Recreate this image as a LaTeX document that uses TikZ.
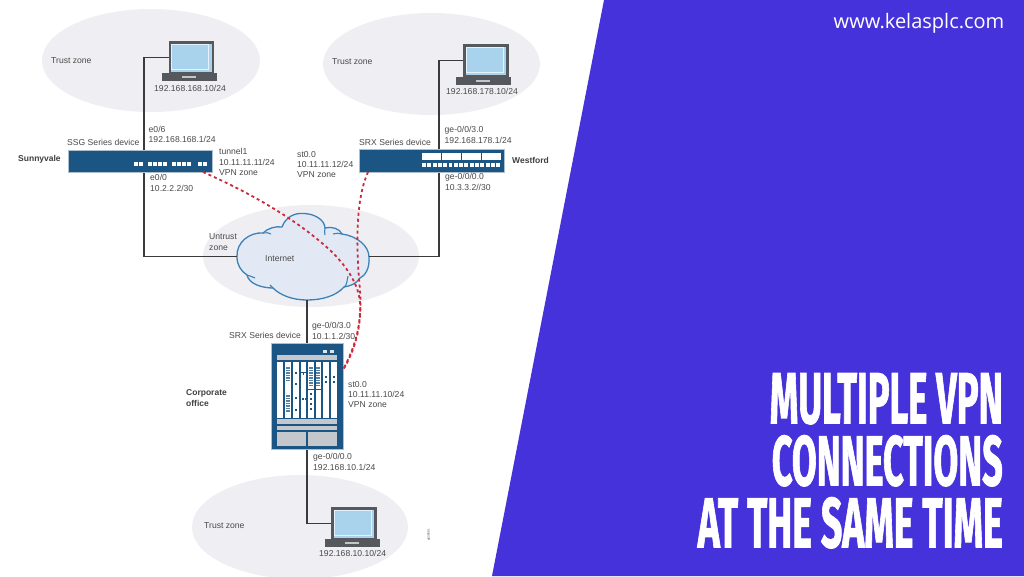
\documentclass[tikz,border=0pt]{standalone}
\usepackage{fontspec}
\setmainfont{Liberation Sans}
\newfontfamily\titlefont[BoldFeatures={FakeBold=1.6}]{Fira Sans}
\newfontfamily\urlfont{Open Sans}
\usetikzlibrary{calc}
\definecolor{panel}{HTML}{4632DA}
\definecolor{zone}{HTML}{EFEFF3}
\definecolor{devblue}{HTML}{1B5583}
\definecolor{devedge}{HTML}{AEBFCE}
\definecolor{wirec}{HTML}{3A3A3A}
\definecolor{labelc}{HTML}{4A4A4A}
\definecolor{tunnelc}{HTML}{CF2A3C}
\definecolor{cloudfill}{HTML}{E3E9F4}
\definecolor{cloudline}{HTML}{3D82B6}
\definecolor{screenc}{HTML}{A9D3EC}
\definecolor{lapc}{HTML}{55595E}
\definecolor{slotgrey}{HTML}{C4C8CC}
\tikzset{
  x=1pt,y=-1pt,
  lbl/.style={anchor=west,inner sep=0,align=left,text=labelc,font=\fontsize{8.6}{10.4}\selectfont},
  lblb/.style={anchor=west,inner sep=0,align=left,text=black!75,font=\fontsize{8.5}{10.2}\selectfont\bfseries},
  wire/.style={draw=wirec,line width=1.1pt},
  tunnel/.style={draw=tunnelc,line width=1.8pt,dash pattern=on 3pt off 3pt},
  device/.style={draw=devedge,line width=1.2pt,fill=devblue,inner sep=0,anchor=north west},
  screen/.style={draw=lapc,line width=2.6pt,fill=screenc,inner sep=0,anchor=north west,minimum width=43pt,minimum height=31pt},
  lapbase/.style={fill=lapc,inner sep=0,anchor=north west,minimum width=55pt,minimum height=8pt},
  title/.style={anchor=north east,inner sep=0,text=white},
  hook/.style={draw=cloudline,line width=1.1pt},
}
\newcommand{\titleline}[3]{\resizebox{#1pt}{#2pt}{\titlefont\bfseries #3}}
\begin{document}
\begin{tikzpicture}
\useasboundingbox (0,0) rectangle (1024,576);
\fill[white] (0,0) rectangle (1024,576);
% zones
\begin{scope}
\clip (0,0) rectangle (1024,576);
\fill[zone] (151,60.5) ellipse [x radius=109,y radius=51.5];
\fill[zone] (431.5,64) ellipse [x radius=108.5,y radius=51];
\fill[zone] (311,256) ellipse [x radius=108,y radius=51];
\fill[zone] (300,527) ellipse [x radius=108,y radius=52];
\end{scope}
% panel
\fill[panel] (604,0) -- (1024,0) -- (1024,576) -- (492,576) -- cycle;
% devices
\node[device,minimum width=144pt,minimum height=22pt] (ssg) at (68,150) {};
\node[device,minimum width=145pt,minimum height=23pt] (srxa) at (359,149) {};
\node[device,minimum width=72pt,minimum height=106pt] (srxb) at (271,343) {};
% laptops
\node[lapbase] (base1) at (162,73) {};
\node[screen] (lap1) at (168.5,41) {};
\node[lapbase] (base2) at (456,76.5) {};
\node[screen] (lap2) at (463,44) {};
\node[lapbase] (base3) at (324.5,539) {};
\node[screen] (lap3) at (331,507) {};
\foreach \bx/\by in {162/73,456/76.5,324.5/539}{
  \fill[white!65!lapc] (\bx+20,\by+3) rectangle (\bx+34,\by+5);
}
\foreach \sx/\sy in {168.5/41,463/44,331/507}{
  \draw[white!70!screenc,line width=.8pt] (\sx+3,\sy+3) rectangle (\sx+40,\sy+28);
}
% ssg ports
\foreach \px in {134,139,148,153,158,163,172,177,182,187,198,203}{
  \fill[white] (\px,162) rectangle +(4,4);
}
% srx a ports
\foreach \px in {422,442,462,482}{
  \fill[white] (\px,153) rectangle +(18.5,7);
}
\foreach \i in {0,...,14}{
  \fill[white] (422+\i*5.3,163) rectangle +(3.9,4);
}
% srx b chassis
\fill[slotgrey] (277,355) rectangle (337,360);
\foreach \a/\b in {277/282.5,285/291,293/298.5,300.5/306,308/314,315.5/321,323/328.5,331/336.5}{
  \fill[white] (\a,362) rectangle (\b,418);
}
\foreach \yy in {367,369.5,372,374.5,377,379.5,395,397.5,400,402.5,405,407.5,410}{
  \fill[devblue!75] (286,\yy) rectangle +(4,1.6);
}
\foreach \yy in {372,383,397,409}{
  \fill[devblue] (294.8,\yy) rectangle +(2,2);
}
\draw[devblue,line width=.7pt] (300.5,372) -- (306,372);
\draw[devblue,line width=.7pt] (303,372) -- (303,375);
\foreach \xx in {301.5,303,304.5}{\fill[devblue] (\xx,398) rectangle +(.9,2);}
\foreach \yy in {367,369.5,372,374.5,377,379.5,382,384.5}{
  \fill[devblue!75] (309,\yy) rectangle +(4,1.6);
  \fill[devblue!75] (316.3,\yy) rectangle +(4,1.6);
}
\draw[devblue,line width=.8pt] (308,389) -- (321,389);
\foreach \yy in {393,398,403,408}{\fill[devblue] (310,\yy) rectangle +(1.9,1.9);}
\foreach \xx in {325,333}{
  \fill[devblue] (\xx,376) rectangle +(1.8,2);
  \fill[devblue] (\xx,381) rectangle +(1.8,2);
}
\fill[slotgrey] (277,419) rectangle (337,423.5);
\fill[slotgrey] (277,425.5) rectangle (337,430);
\fill[slotgrey] (277,432) rectangle (306,446);
\fill[slotgrey] (308,432) rectangle (337,446);
\fill[white!85!devblue] (323,350) rectangle +(4,2.6);
\fill[white!85!devblue] (330,350) rectangle +(4,2.6);
% cloud
\path[draw=cloudline,fill=cloudfill,line width=1.3pt]
  (237,257) .. controls (236,242) and (250,232) .. (263,233)
  .. controls (268,228) and (276,226) .. (282,227)
  .. controls (286,216) and (296,213) .. (302,213.5)
  .. controls (314,213) and (325,220) .. (325,228)
  .. controls (332,226) and (340,229) .. (342,234)
  .. controls (357,236) and (369,246) .. (369,257)
  .. controls (370,268) and (365,276) .. (360,278)
  .. controls (356,284) and (350,286) .. (344,287)
  .. controls (336,296) and (322,300) .. (307,300)
  .. controls (292,300) and (280,295) .. (273,288)
  .. controls (262,288) and (249,284) .. (247,275)
  .. controls (241,271) and (237,265) .. (237,257) -- cycle;
\draw[hook] (263,233) .. controls (266,232) and (269,233) .. (271,234);
\draw[hook] (325,228) .. controls (324,231) and (325,233) .. (325,235);
\draw[hook] (342,234) .. controls (339,233) and (336,233) .. (333,234);
\draw[hook] (344,287) .. controls (347,286) and (347,280) .. (348,276);
\draw[hook] (273,288) .. controls (272,287) and (271,286) .. (270,285);
\draw[hook] (247,275) .. controls (250,276) and (253,277) .. (255,278);
\node[inner sep=0,minimum width=132pt,minimum height=87pt] (cloud) at (303,256.5) {};
% anchor coordinates on devices
\coordinate (ssgx) at (144,0);
\coordinate (srxax) at (439,0);
\coordinate (srxbx) at (307,0);
\coordinate (ssgtun) at (203,172);
\coordinate (srxatun) at (368,172);
\coordinate (srxbtun) at (343.5,369);
% connectors
\draw[wire] (lap1.west) -| (ssg.north -| ssgx);
\draw[wire] (lap2.west) -| (srxa.north -| srxax);
\draw[wire] (ssg.south -| ssgx) |- (cloud.west);
\draw[wire] (srxa.south -| srxax) |- (cloud.east);
\draw[wire] (cloud.south -| srxbx) -- (srxb.north -| srxbx);
\draw[wire] (srxb.south -| srxbx) |- (lap3.west);
% tunnels
\draw[tunnel] (ssgtun) .. controls (255,195) and (300,222) .. (332,252)
  .. controls (352,272) and (362,292) .. (360,312)
  .. controls (359,335) and (352,352) .. (srxbtun);
\draw[tunnel] (srxatun) .. controls (359,192) and (354,228) .. (360,290)
  .. controls (362,320) and (358,345) .. (srxbtun);
% labels
\node[lbl] (t1) at (51,61) {Trust zone};
\node[lbl] (t2) at (332,62) {Trust zone};
\node[lbl] (t3) at (204,526) {Trust zone};
\node[lbl] (a1) at (154,88) {192.168.168.10/24};
\node[lbl] (a2) at (446,91) {192.168.178.10/24};
\node[lbl] (a3) at (319,553) {192.168.10.10/24};
\node[lbl] (p1) at (148.5,134.5) {e0/6\\192.168.168.1/24};
\node[lbl] (d1) at (67,142) {SSG Series device};
\node[lblb] (sv) at (18,159) {Sunnyvale};
\node[lbl] (p2) at (219,162) {tunnel1\\10.11.11.11/24\\VPN zone};
\node[lbl] (p3) at (150,183) {e0/0\\10.2.2.2/30};
\node[lbl] (p4) at (444.5,135) {ge-0/0/3.0\\192.168.178.1/24};
\node[lbl] (d2) at (359,142) {SRX Series device};
\node[lbl] (p5) at (297,164.5) {st0.0\\10.11.11.12/24\\VPN zone};
\node[lblb] (wf) at (512,160) {Westford};
\node[lbl] (p6) at (445,182) {ge-0/0/0.0\\10.3.3.2//30};
\node[lbl] (u) at (209,242) {Untrust\\zone};
\node[lbl] (net) at (265,258.5) {Internet};
\node[lbl] (p7) at (312,331) {ge-0/0/3.0\\10.1.1.2/30};
\node[lbl] (d3) at (229,335) {SRX Series device};
\node[lblb] (co) at (186,398) {Corporate\\office};
\node[lbl] (p8) at (348,394.5) {st0.0\\10.11.11.10/24\\VPN zone};
\node[lbl] (p9) at (313,462) {ge-0/0/0.0\\192.168.10.1/24};
\node[inner sep=0,rotate=90,text=labelc,font=\fontsize{3}{3}\selectfont] (gid) at (429,535) {g030681};
% header and title
\node[anchor=east,inner sep=0,text=white,font=\urlfont\fontsize{20}{22}\selectfont] (url) at (1004.5,23) {www.kelasplc.com};
\node[title] (l1) at (1003,373) {\titleline{233}{50}{MULTIPLE VPN}};
\node[title] (l2) at (1003,435) {\titleline{231}{50}{CONNECTIONS}};
\node[title] (l3) at (1003,497) {\titleline{305}{50}{AT THE SAME TIME}};
\end{tikzpicture}
\end{document}
